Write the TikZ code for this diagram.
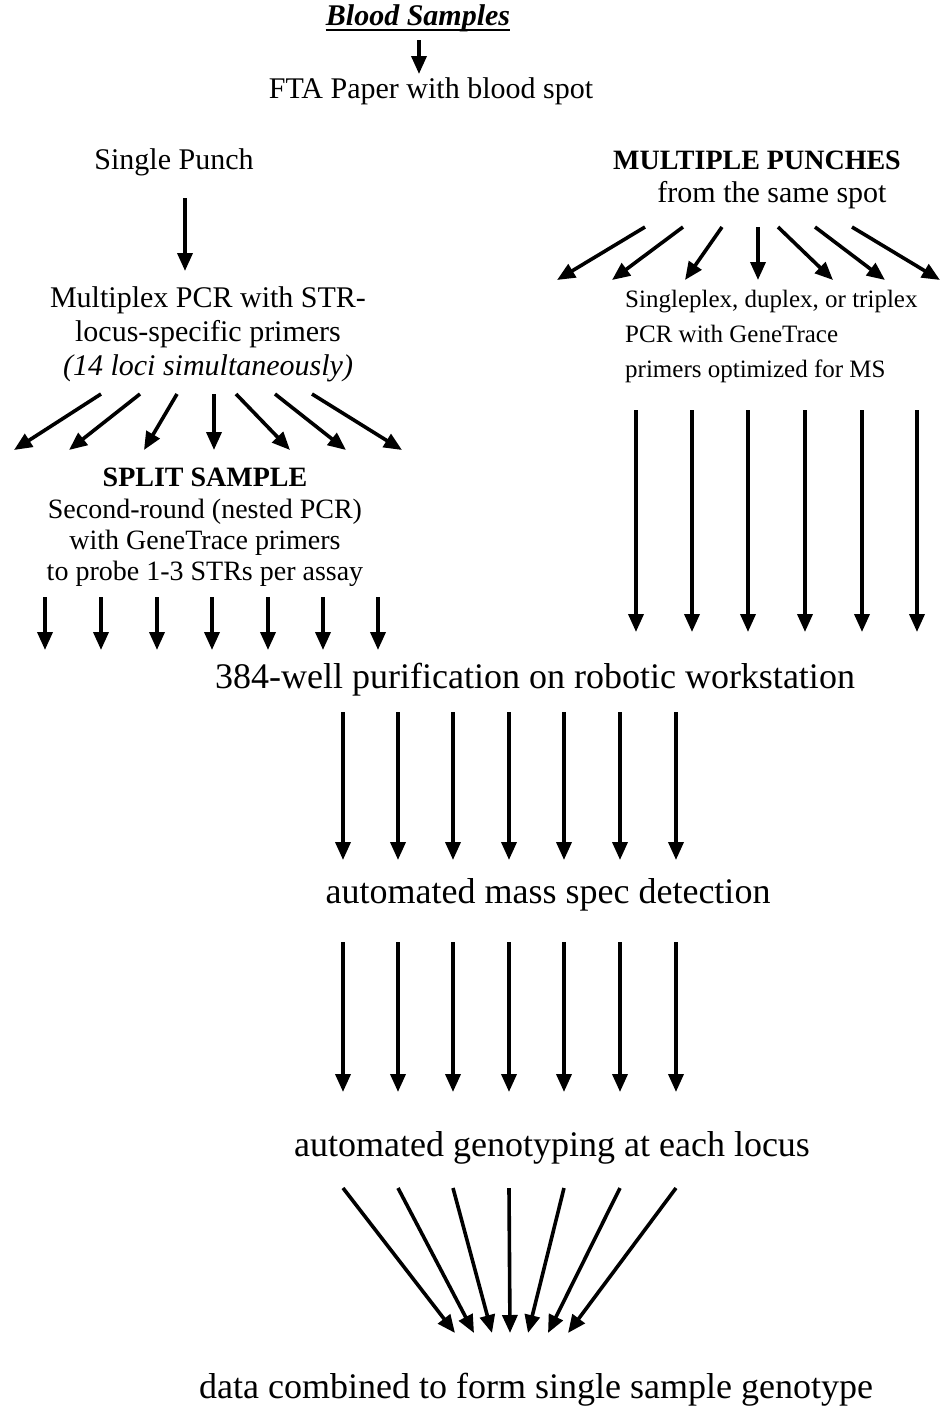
\documentclass[tikz,border=0pt]{standalone}
\usepackage{fontspec}
\setmainfont{Liberation Serif}
\usetikzlibrary{arrows.meta}
\tikzset{
  arr/.style={line width=3.6pt,-{Triangle[length=18pt,width=15pt]}},
  lbl/.style={inner sep=0pt,anchor=center},
  fA/.style={font=\fontsize{30}{34}\selectfont},
  fB/.style={font=\fontsize{36}{40}\selectfont},
  fC/.style={font=\fontsize{25}{35}\selectfont},
  fD/.style={font=\fontsize{28}{31}\selectfont},
}
\begin{document}
\begin{tikzpicture}[x=1pt,y=-1pt]
\useasboundingbox (0,0) rectangle (945,1417);
% texts
\node[lbl,fA,font=\fontsize{30}{34}\selectfont\bfseries\itshape] (blood) at (418,18) {Blood Samples};
\draw[line width=1.8pt] ([yshift=-5pt]blood.base west) -- ([yshift=-5pt]blood.base east);
\node[lbl,fA] (fta) at (431,91) {FTA Paper with blood spot};
\node[lbl,fA] (single) at (174,162) {Single Punch};
\node[lbl,fA,align=center] (multi) at (208,334) {Multiplex PCR with STR-\\locus-specific primers\\\textit{(14 loci simultaneously)}};
\node[lbl,fD,font=\fontsize{28}{34}\selectfont\bfseries] (mp) at (757,160) {MULTIPLE PUNCHES};
\node[lbl,fA] (mp2) at (772,195) {from the same spot};
\node[lbl,fC,align=left,anchor=west] (sdt) at (625,336) {Singleplex, duplex, or triplex\\PCR with GeneTrace\\primers optimized for MS};
\node[lbl,fD,font=\fontsize{28}{31}\selectfont\bfseries] (split) at (205,477) {SPLIT SAMPLE};
\node[lbl,fD,align=center] (second) at (205,543) {Second-round (nested PCR)\\with GeneTrace primers\\to probe 1-3 STRs per assay};
\node[lbl,fB] (purif) at (535,680) {384-well purification on robotic workstation};
\node[lbl,fB] (mass) at (548,895) {automated mass spec detection};
\node[lbl,fB] (geno) at (552,1148) {automated genotyping at each locus};
\node[lbl,fB] (data) at (536,1390) {data combined to form single sample genotype};
% top arrows
\coordinate (b1) at (419,40); \coordinate (b2) at (419,74);
\draw[arr] (b1) -- (b2);
\coordinate (sp1) at (185,198); \coordinate (sp2) at (185,271);
\draw[arr] (sp1) -- (sp2);
% left fan
\foreach \i/\sx/\ex in {1/101/14,2/140/69,3/177/144,4/214/214,5/236/290,6/275/346,7/312/402}{
  \coordinate (lfs\i) at (\sx,394); \coordinate (lfe\i) at (\ex,450);
  \draw[arr] (lfs\i) -- (lfe\i);
}
% right fan
\foreach \i/\sx/\ex in {1/645/557,2/683/612,3/722/685,4/758/758,5/778/833,6/815/885,7/852/940}{
  \coordinate (rfs\i) at (\sx,227); \coordinate (rfe\i) at (\ex,280);
  \draw[arr] (rfs\i) -- (rfe\i);
}
% right verticals
\foreach \i/\x in {1/636,2/692,3/748,4/805,5/862,6/917}{
  \coordinate (rvs\i) at (\x,410); \coordinate (rve\i) at (\x,632);
  \draw[arr] (rvs\i) -- (rve\i);
}
% left verticals
\foreach \i/\x in {1/45,2/101,3/157,4/212,5/268,6/323,7/378}{
  \coordinate (lvs\i) at (\x,597); \coordinate (lve\i) at (\x,650);
  \draw[arr] (lvs\i) -- (lve\i);
}
% middle
\foreach \i/\x/\ex in {1/343/455,2/398/474,3/453/492,4/509/510,5/564/528,6/620/548,7/676/568}{
  \coordinate (m1s\i) at (\x,712); \coordinate (m1e\i) at (\x,860);
  \draw[arr] (m1s\i) -- (m1e\i);
  \coordinate (m2s\i) at (\x,942); \coordinate (m2e\i) at (\x,1092);
  \draw[arr] (m2s\i) -- (m2e\i);
  \coordinate (cs\i) at (\x,1188); \coordinate (ce\i) at (\ex,1333);
  \draw[arr] (cs\i) -- (ce\i);
}
\end{tikzpicture}
\end{document}
